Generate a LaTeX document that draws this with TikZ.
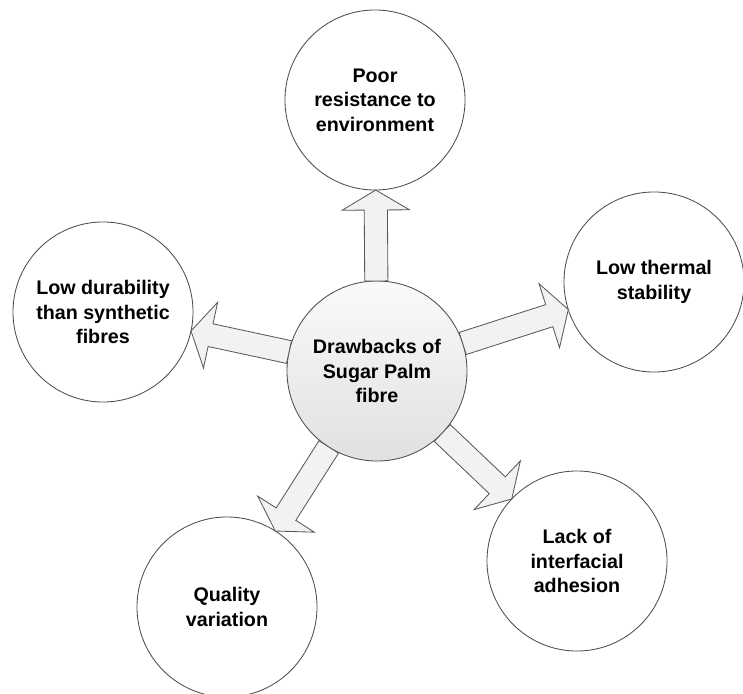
\documentclass[tikz,border=0pt]{standalone}
\usepackage{fontspec}
\setmainfont{Liberation Sans}
\usetikzlibrary{calc}
\tikzset{
	bubble/.style={circle, draw=black!70, line width=0.6pt, fill=white,
		minimum size=4.5cm, inner sep=0pt, align=center,
		font=\bfseries\fontsize{14}{17.5}\selectfont},
	hub/.style={bubble, top color=black!2, bottom color=black!12},
	fatarrow/.style={draw=black!65, fill=black!5, line width=0.6pt, line join=miter},
}
\begin{document}
\begin{tikzpicture}[x=0.025cm, y=0.025cm]
	\useasboundingbox (0,0) rectangle (743,693);
	\node[hub] (drawback) at (377,322) {Drawbacks of\\Sugar Palm\\fibre};
	\node[bubble] (poor) at (375,593) {Poor\\resistance to\\environment};
	\node[bubble] (thermal) at (654,411) {Low thermal\\stability};
	\node[bubble] (durability) at (103,381) {Low durability\\than synthetic\\fibres};
	\node[bubble] (quality) at (227,86) {Quality\\variation};
	\node[bubble] (adhesion) at (577,132) {Lack of\\interfacial\\adhesion};
	\foreach \target in {poor,thermal,durability,quality,adhesion}
	{
		\coordinate (s) at ($(drawback)!2.25cm!(\target)$);
		\coordinate (e) at ($(\target)!2.25cm!(drawback)$);
		\coordinate (h) at ($(e)!0.5cm!(s)$);
		\filldraw[fatarrow] ($(s)!0.29cm!90:(e)$) -- ($(h)!0.29cm!90:(e)$)
			-- ($(h)!0.84cm!90:(e)$) -- (e) -- ($(h)!0.84cm!-90:(e)$)
			-- ($(h)!0.29cm!-90:(e)$) -- ($(s)!0.29cm!-90:(e)$) -- cycle;
	}
\end{tikzpicture}
\end{document}
